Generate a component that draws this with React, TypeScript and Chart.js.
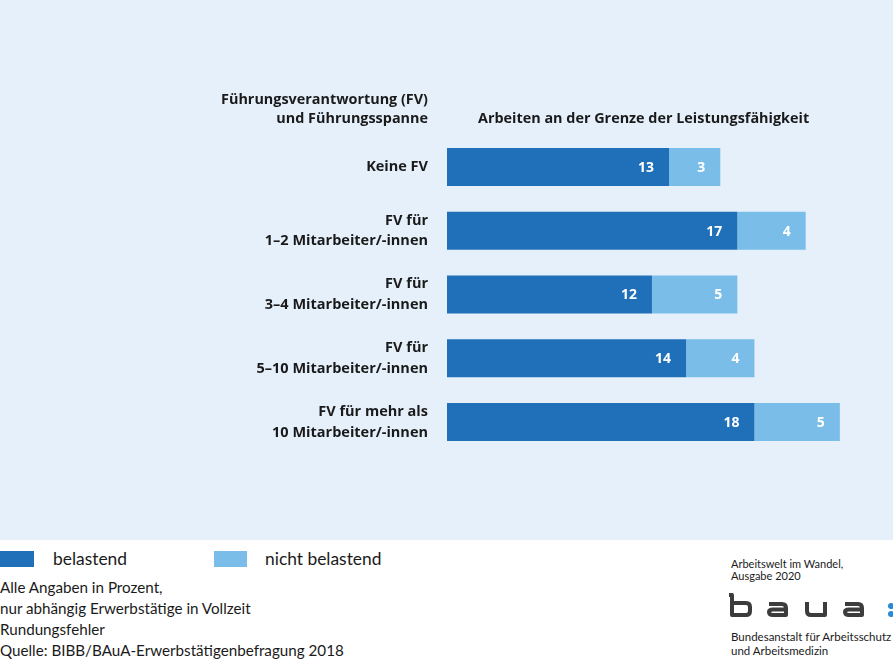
import React, { useEffect, useRef } from "react";
import { Chart, registerables } from "chart.js";
Chart.register(...registerables);

const categories: string[][] = [
  ["Keine FV"],
  ["FV für", "1–2 Mitarbeiter/-innen"],
  ["FV für", "3–4 Mitarbeiter/-innen"],
  ["FV für", "5–10 Mitarbeiter/-innen"],
  ["FV für mehr als", "10 Mitarbeiter/-innen"],
];
const belastend = [13, 17, 12, 14, 18];
const nichtBelastend = [3, 4, 5, 4, 5];
const seriesNames = ["belastend", "nicht belastend"];
const axisTitle = ["Führungsverantwortung (FV)", "und Führungsspanne"];
const chartTitle = "Arbeiten an der Grenze der Leistungsfähigkeit";
const notes = [
  "Alle Angaben in Prozent,",
  "nur abhängig Erwerbstätige in Vollzeit",
  "Rundungsfehler",
  "Quelle: BIBB/BAuA-Erwerbstätigenbefragung 2018",
];
const publication = ["Arbeitswelt im Wandel,", "Ausgabe 2020"];
const institution = ["Bundesanstalt für Arbeitsschutz", "und Arbeitsmedizin"];

const DARK = "#1f70b8";
const LIGHT = "#79bde8";
const BG = "#e6f0fa";
const FONT = "Lato, 'Open Sans', sans-serif";
const BOLDFONT = "'Open Sans', Lato, sans-serif";

const valueLabels = {
  id: "valueLabels",
  afterDatasetsDraw(chart: any) {
    const ctx = chart.ctx;
    ctx.save();
    ctx.font = `bold 14px ${BOLDFONT}`;
    ctx.fillStyle = "#ffffff";
    ctx.textAlign = "right";
    ctx.textBaseline = "middle";
    chart.data.datasets.forEach((ds: any, i: number) => {
      const meta = chart.getDatasetMeta(i);
      meta.data.forEach((bar: any, j: number) => {
        ctx.fillText(String(ds.data[j]), bar.x - 15, bar.y + 1);
      });
    });
    ctx.restore();
  },
};

export default function App() {
  const ref = useRef<HTMLCanvasElement | null>(null);
  useEffect(() => {
    if (!ref.current) return;
    const chart = new Chart(ref.current, {
      type: "bar",
      data: {
        labels: categories,
        datasets: [
          { label: seriesNames[0], data: belastend, backgroundColor: DARK, borderWidth: 0 },
          { label: seriesNames[1], data: nichtBelastend, backgroundColor: LIGHT, borderWidth: 0 },
        ],
      },
      options: {
        indexAxis: "y",
        animation: false,
        responsive: false,
        maintainAspectRatio: false,
        layout: { padding: { left: 0, right: 19, top: 135, bottom: 86 } },
        plugins: { legend: { display: false }, tooltip: { enabled: false } },
        datasets: { bar: { categoryPercentage: 1, barPercentage: 0.596 } },
        scales: {
          x: { stacked: true, min: 0, max: 25, display: false },
          y: {
            stacked: true,
            grid: { display: false, drawTicks: false },
            border: { display: false },
            afterFit: (s: any) => { s.width = 447; },
            ticks: {
              padding: 19,
              color: "#1a1a1a",
              font: { family: BOLDFONT, size: 14.5, weight: "bold", lineHeight: 1.42 },
            },
          },
        },
      },
      plugins: [valueLabels],
    });
    return () => chart.destroy();
  }, []);

  const abs = (o: any) => ({ position: "absolute", whiteSpace: "nowrap", ...o } as React.CSSProperties);

  return (
    <div style={{ position: "absolute", left: 0, top: 0, width: 893, height: 663, background: "#fff", fontFamily: FONT, color: "#1a1a1a", overflow: "hidden" }}>
      <div style={{ position: "absolute", left: 0, top: 0, width: 893, height: 540, background: BG }}>
        <canvas ref={ref} width={893} height={540} style={{ display: "block", width: 893, height: 540 }} />
      </div>
      <div style={abs({ right: 893 - 428, top: 89, fontFamily: BOLDFONT, fontWeight: 700, fontSize: 14.4, lineHeight: "19px", textAlign: "right" })}>
        {axisTitle.map((t, i) => <div key={i}>{t}</div>)}
      </div>
      <div style={abs({ left: 478, top: 108, fontFamily: BOLDFONT, fontWeight: 700, fontSize: 14.4, lineHeight: "19px" })}>{chartTitle}</div>

      <div style={abs({ left: 0, top: 551, width: 34, height: 16, background: DARK })} />
      <div style={abs({ left: 53, top: 548, fontSize: 17.4, lineHeight: "22px" })}>{seriesNames[0]}</div>
      <div style={abs({ left: 214, top: 551, width: 33, height: 16, background: LIGHT })} />
      <div style={abs({ left: 265, top: 548, fontSize: 17.4, lineHeight: "22px" })}>{seriesNames[1]}</div>

      <div style={abs({ left: 0, top: 577, fontSize: 15.2, lineHeight: "21px" })}>
        {notes.map((t, i) => <div key={i}>{t}</div>)}
      </div>

      <div style={abs({ left: 731, top: 558, fontSize: 11, lineHeight: "12px" })}>
        {publication.map((t, i) => <div key={i}>{t}</div>)}
      </div>
      <svg style={abs({ left: 728, top: 592 })} width={170} height={30} viewBox="0 0 170 30">
        <g fill="none" stroke="#3c3c3c" strokeWidth={4} strokeLinejoin="round">
          <path d="M 1 3 L 4 3 L 4 23 L 18 23 Q 22 23 22 19 L 22 15 Q 22 11 18 11 L 4 11" />
          <path d="M 41 12 L 54 12 Q 58 12 58 16 L 58 23 L 45 23 Q 41 23 41 20 Q 41 17.5 45 17.5 L 58 17.5" />
          <path d="M 79 10 L 79 19 Q 79 23 83 23 L 97 23 L 97 10" />
          <path d="M 117 12 L 130 12 Q 134 12 134 16 L 134 23 L 121 23 Q 117 23 117 20 Q 117 17.5 121 17.5 L 134 17.5" />
        </g>
        <circle cx={163} cy={14} r={3} fill="#2a8ad8" />
        <circle cx={163} cy={22} r={3} fill="#2a8ad8" />
      </svg>
      <div style={abs({ left: 731, top: 630, fontSize: 11.5, lineHeight: "14px" })}>
        {institution.map((t, i) => <div key={i}>{t}</div>)}
      </div>
    </div>
  );
}
